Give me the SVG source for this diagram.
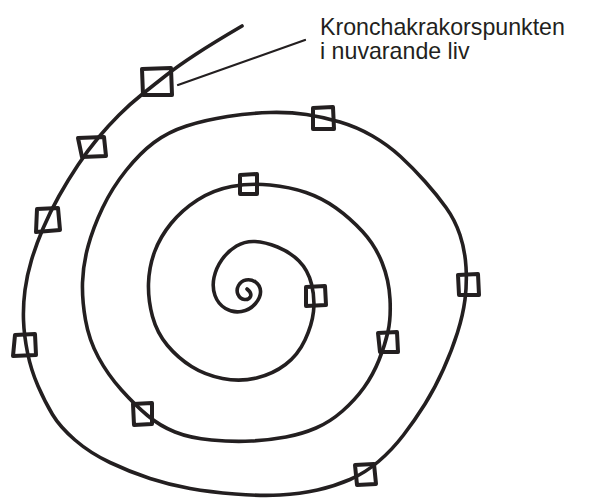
<svg xmlns="http://www.w3.org/2000/svg" width="589" height="498" viewBox="0 0 589 498">
<style>
.ln{fill:none;stroke:#231f20;stroke-width:3.6;stroke-linecap:round;stroke-linejoin:round}
.sq{fill:none;stroke:#231f20;stroke-width:4;stroke-linecap:round;stroke-linejoin:round}
.lead{fill:none;stroke:#231f20;stroke-width:2.2;stroke-linecap:round}
.lbl{font-family:"Liberation Sans",Arial,sans-serif;font-size:23.2px;fill:#231f20}
</style>
<rect width="589" height="498" fill="#fff"/>
<g id="connectors">
<path id="spiral" class="ln" d="M242,26 Q213,43 195.5,54.5 Q178,66 166.5,75 Q155,84 142.5,94 Q130,104 119,115 Q108,126 98,138 Q88,150 78,165 Q68,180 59,196 Q50,212 43,228.5 Q36,245 31.5,260 Q27,275 25,290 Q23,305 23.5,320 Q24,335 27.5,352.5 Q31,370 38,386 Q45,402 52.5,414.5 Q60,427 75,440 Q90,453 110,462.5 Q130,472 150,478.5 Q170,485 190,488.5 Q210,492 235,494 Q260,496 280,495 Q300,494 317.5,490 Q335,486 350,479.5 Q365,473 378.5,461.5 Q392,450 403.5,435 Q415,420 425,404 Q435,388 443.5,369 Q452,350 457.5,332.5 Q463,315 465,299.5 Q467,284 466,267 Q465,250 460,235 Q455,220 446,207.5 Q437,195 425,181.5 Q413,168 400.5,156.5 Q388,145 372.5,136 Q357,127 340,122 Q323,117 306.5,114.5 Q290,112 270,112.5 Q250,113 227.5,116.5 Q205,120 186.5,126 Q168,132 154,142.5 Q140,153 126,170.5 Q112,188 102.5,208 Q93,228 88,246.5 Q83,265 82.5,282.5 Q82,300 85.5,320 Q89,340 98.5,357.5 Q108,375 121.5,390 Q135,405 147.5,415.5 Q160,426 175,432 Q190,438 211.5,440 Q233,442 251.5,441 Q270,440 286,437 Q302,434 316,428 Q330,422 342.5,411 Q355,400 364,387.5 Q373,375 379,360 Q385,345 388,331.5 Q391,318 390,299 Q389,280 382,262.5 Q375,245 362.5,231.5 Q350,218 336,208 Q322,198 306,192.5 Q290,187 270,185 Q250,183 231.5,186.5 Q213,190 197.5,200 Q182,210 171,223.5 Q160,237 154.5,252 Q149,267 148.5,283.5 Q148,300 152.5,316.5 Q157,333 167.5,345.5 Q178,358 191.5,366.5 Q205,375 222.5,378.5 Q240,382 256.5,378 Q273,374 285.5,364.5 Q298,355 305,340 Q312,325 313.5,311.5 Q315,298 311.5,284 Q308,270 299,261 Q290,252 277.5,247 Q265,242 255,241.5 Q245,241 236.5,246 Q228,251 222,259.5 Q216,268 214,277.5 Q212,287 215,295.5 Q218,304 225.5,308.5 Q233,313 241.5,311.5 Q250,310 255.5,303.5 Q261,297 260.5,291 Q260,285 255.5,282 Q251,279 246,280 Q241,281 238.5,285.5 Q236,290 238,294.5 Q240,299 244.5,299.5 Q249,300 250.5,296.5 Q252,293 247,289"/>
<line id="leader" class="lead" x1="305" y1="40" x2="178" y2="85"/>
</g>
<g id="sq1"><path class="sq" d="M142,69 L171,68 L172,95 L143,95 Z"/></g>
<g id="sq2"><path class="sq" d="M78,138 L104,137 L106,156 L82,157 Z"/></g>
<g id="sq3"><path class="sq" d="M37,209 L58,208 L60,230 L36,232 Z"/></g>
<g id="sq4"><path class="sq" d="M15,335 L35,334 L36,355 L13,356 Z"/></g>
<g id="sq5"><path class="sq" d="M133,404 L152,403 L152,424 L134,425 Z"/></g>
<g id="sq6"><path class="sq" d="M355,465 L374,464 L376,484 L357,485 Z"/></g>
<g id="sq7"><path class="sq" d="M378,333 L397,332 L398,352 L380,352 Z"/></g>
<g id="sq8"><path class="sq" d="M458,275 L478,274 L479,295 L459,295 Z"/></g>
<g id="sq9"><path class="sq" d="M313,108 L333,107 L334,129 L313,129 Z"/></g>
<g id="sq10"><path class="sq" d="M240,175 L257,174 L257,194 L240,194 Z"/></g>
<g id="sq11"><path class="sq" d="M306,287 L325,286 L326,305 L306,306 Z"/></g>
<g id="label">
<text class="lbl" x="320" y="34.5">Kronchakrakorspunkten</text>
<text class="lbl" x="320" y="59">i nuvarande liv</text>
</g>
</svg>
